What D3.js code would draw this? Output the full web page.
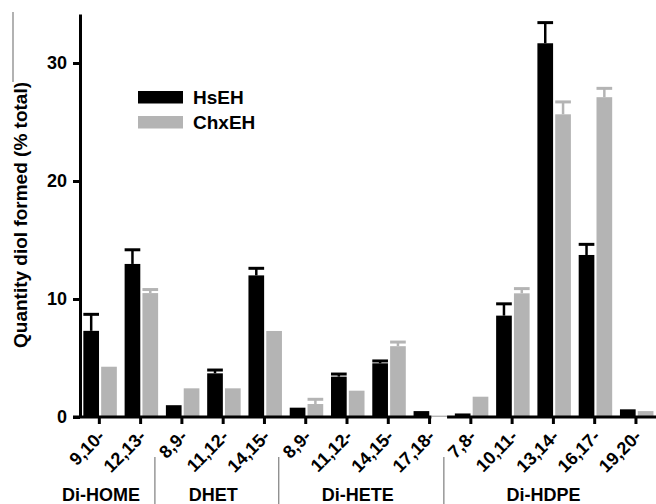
<!DOCTYPE html>
<html>

<head>
  <meta charset='utf-8'>
  <style>
    body { margin: 0; background: #fff; }
    text { font-family: 'Liberation Sans', Arial, sans-serif; font-weight: bold; }
  </style>
  <script src='https://cdn.jsdelivr.net/npm/d3@7/dist/d3.min.js'></script>
</head>

<body>

  <script>

    let [width, height] = [656, 504]

    // categories and groups
    let categories = ['9,10-', '12,13-', '8,9-', '11,12-', '14,15-', '8,9-', '11,12-', '14,15-', '17,18-', '7,8-', '10,11-', '13,14-', '16,17-', '19,20-']
    let groups = ['Di-HOME', 'DHET', 'Di-HETE', 'Di-HDPE']
    let groupSizes = [2, 3, 4, 5]

    // series
    let seriesNames = ['HsEH', 'ChxEH']
    let hsEH = [7.3, 12.97, 1.0, 3.7, 12.0, 0.79, 3.42, 4.55, 0.5, 0.3, 8.59, 31.67, 13.73, 0.65]
    let hsEHErr = [1.4, 1.2, 0, 0.28, 0.6, 0, 0.22, 0.2, 0, 0, 1.0, 1.75, 0.9, 0]
    let chxEH = [4.26, 10.5, 2.43, 2.43, 7.29, 1.1, 2.23, 6.0, 0.12, 1.72, 10.48, 25.65, 27.1, 0.5]
    let chxEHErr = [0, 0.3, 0, 0, 0, 0.4, 0, 0.35, 0, 0, 0.4, 1.05, 0.75, 0]

    let yTicks = [0, 10, 20, 30]
    let yTitle = 'Quantity diol formed (% total)'

    let colors = { HsEH: '#000', ChxEH: '#b4b4b4' }

    let rows = categories.map((c, i) => ({
      i, label: c,
      values: [
        { key: 'HsEH', value: hsEH[i], err: hsEHErr[i] },
        { key: 'ChxEH', value: chxEH[i], err: chxEHErr[i] }
      ]
    }))

    let svg = d3.select('body')
      .append('svg')
      .attr('width', width)
      .attr('height', height)

    let y = d3.scaleLinear([0, 34.15], [417, 14])
    let x = d3.scaleBand(d3.range(categories.length), [78.7, 656.6])
    let xInner = d3.scaleBand(seriesNames, [-16, 17.5]).paddingInner(0.12)
    let center = i => x(i) + x.bandwidth() / 2

    // stray grey rule at the far left
    svg.append('line')
      .attr('x1', 13).attr('x2', 13).attr('y1', 12).attr('y2', 82)
      .attr('stroke', '#999').attr('stroke-width', 1.5)

    // bars
    let cat = svg.append('g').selectAll('g')
      .data(rows)
      .join('g')
      .attr('transform', d => `translate(${center(d.i)},0)`)

    cat.selectAll('rect')
      .data(d => d.values)
      .join('rect')
      .attr('x', d => xInner(d.key))
      .attr('width', xInner.bandwidth())
      .attr('y', d => y(d.value))
      .attr('height', d => y(0) - y(d.value))
      .attr('fill', d => colors[d.key])

    // error bars (upper only)
    let eb = cat.selectAll('g.err')
      .data(d => d.values.filter(v => v.err > 0))
      .join('g')
      .attr('class', 'err')
      .attr('stroke', d => colors[d.key])
    eb.append('line')
      .attr('x1', d => xInner(d.key) + xInner.bandwidth() / 2)
      .attr('x2', d => xInner(d.key) + xInner.bandwidth() / 2)
      .attr('y1', d => y(d.value))
      .attr('y2', d => y(d.value + d.err))
      .attr('stroke-width', 2.5)
    eb.append('line')
      .attr('x1', d => xInner(d.key))
      .attr('x2', d => xInner(d.key) + xInner.bandwidth())
      .attr('y1', d => y(d.value + d.err))
      .attr('y2', d => y(d.value + d.err))
      .attr('stroke-width', 3)

    // y axis
    let yAxis = svg.append('g')
      .attr('transform', 'translate(80,0)')
      .call(d3.axisLeft(y).tickValues(yTicks).tickSize(7).tickSizeOuter(0).tickPadding(6))
    yAxis.select('.domain').attr('stroke-width', 3)
    yAxis.selectAll('.tick line').attr('stroke-width', 3)
    yAxis.selectAll('.tick text').attr('font-size', 18).attr('fill', '#000')
      .style('font-family', "'Liberation Sans', Arial, sans-serif").style('font-weight', 'bold')

    // x axis: ticks and labels from the band scale, baseline drawn in two pieces
    let xAxis = svg.append('g')
      .attr('transform', `translate(0,${y(0)})`)
      .call(d3.axisBottom(x).tickSize(7).tickFormat(i => categories[i]))
    xAxis.select('.domain').remove()
    xAxis.selectAll('.tick line').attr('stroke-width', 3)
    xAxis.selectAll('.tick text')
      .attr('font-size', 18).attr('fill', '#000')
      .style('font-family', "'Liberation Sans', Arial, sans-serif").style('font-weight', 'bold')
      .attr('text-anchor', 'end')
      .attr('dy', 0)
      .attr('y', 0)
      .attr('transform', 'translate(6.5,20.5) rotate(-45)')

    let breakI = categories.indexOf('17,18-')
    let breakL = center(breakI) + xInner('ChxEH')
    let breakR = breakL + xInner.bandwidth()
    let base = [[73, breakL], [breakR, 656]]
    svg.append('g').selectAll('line')
      .data(base)
      .join('line')
      .attr('x1', d => d[0]).attr('x2', d => d[1])
      .attr('y1', y(0)).attr('y2', y(0))
      .attr('stroke', '#000').attr('stroke-width', 3)

    // group separators and labels
    let starts = d3.cumsum([0, ...groupSizes]).slice(0, groups.length)
    svg.append('g').selectAll('line')
      .data(starts.slice(1))
      .join('line')
      .attr('x1', s => center(s) - 27).attr('x2', s => center(s) - 27)
      .attr('y1', 457).attr('y2', height)
      .attr('stroke', '#888').attr('stroke-width', 1.3)

    svg.append('g').selectAll('text')
      .data(groups)
      .join('text')
      .attr('x', (g, k) => {
        let first = starts[k], last = first + groupSizes[k] - 1
        return (center(first) + center(last)) / 2 + (k === 0 ? -19 : -10)
      })
      .attr('y', 501)
      .attr('text-anchor', 'middle')
      .attr('font-size', 18)
      .text(g => g)

    // y title
    svg.append('text')
      .attr('transform', `translate(27,${215}) rotate(-90)`)
      .attr('text-anchor', 'middle')
      .attr('font-size', 19)
      .text(yTitle)

    // legend
    let legend = svg.append('g').selectAll('g')
      .data(seriesNames)
      .join('g')
      .attr('transform', (d, k) => `translate(138,${91 + k * 25})`)
    legend.append('rect')
      .attr('width', 45).attr('height', 12.5)
      .attr('fill', d => colors[d])
    legend.append('text')
      .attr('x', 55).attr('y', 13)
      .attr('font-size', 19)
      .text(d => d)
  </script>
</body>

</html>
